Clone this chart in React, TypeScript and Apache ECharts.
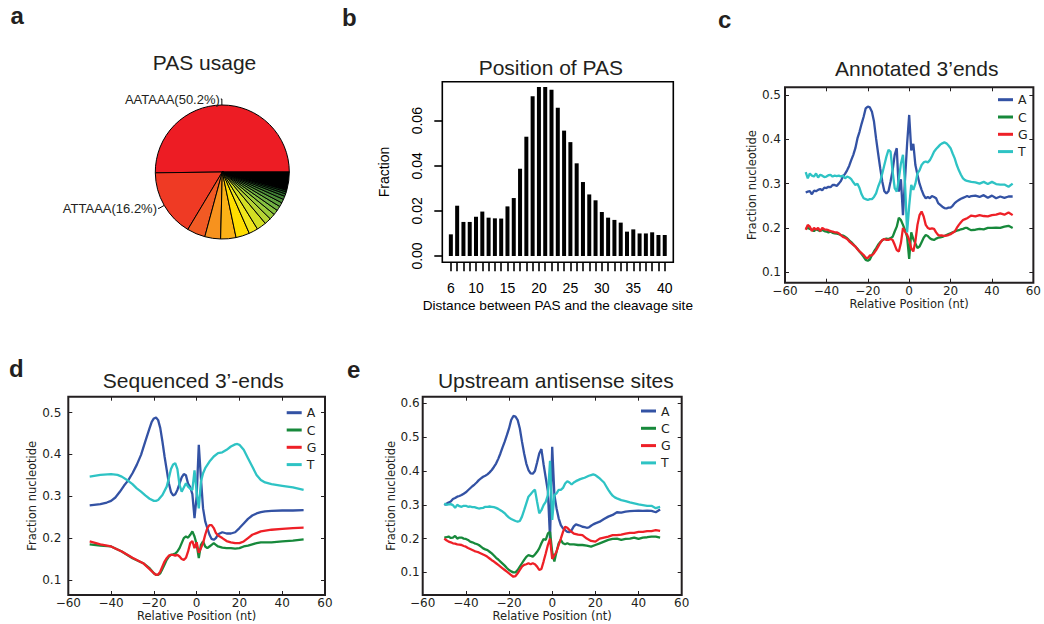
import React, { useEffect, useRef } from 'react';
import * as echarts from 'echarts';

// ---------- Panel a: PAS usage ----------
const pasNames = ['AATAAA', 'ATTAAA', 'PAS3', 'PAS4', 'PAS5', 'PAS6', 'PAS7', 'PAS8', 'PAS9', 'PAS10', 'PAS11', 'PAS12', 'PAS13', 'PAS14', 'PAS15', 'PAS16', 'PAS17', 'PAS18', 'PAS19', 'other'];
const pasShares = [50.2, 16.2, 4.4, 3.8, 3.7, 3.3, 2.2, 2.3, 1.6, 1.4, 1.2, 1.1, 1.0, 0.9, 0.8, 0.6, 0.5, 0.4, 0.2, 4.2];
const pasLabelled = ['AATAAA', 'ATTAAA'];

// ---------- Panel b: Position of PAS ----------
const pasDistance = [6, 7, 8, 9, 10, 11, 12, 13, 14, 15, 16, 17, 18, 19, 20, 21, 22, 23, 24, 25, 26, 27, 28, 29, 30, 31, 32, 33, 34, 35, 36, 37, 38, 39, 40];
const pasFraction = [0.0096, 0.0223, 0.0151, 0.0151, 0.0174, 0.0197, 0.017, 0.0167, 0.0166, 0.022, 0.0257, 0.0387, 0.0529, 0.0709, 0.0749, 0.0749, 0.0737, 0.0658, 0.0556, 0.0505, 0.0411, 0.0328, 0.0273, 0.0247, 0.0195, 0.017, 0.016, 0.0148, 0.0108, 0.0118, 0.01, 0.01, 0.0105, 0.0093, 0.0093];
const pasDistanceLabels = [6, 10, 15, 20, 25, 30, 35, 40];
const pasFractionTicks = [0, 0.02, 0.04, 0.06];

// ---------- Panel c: Annotated 3'ends ----------
const annoA = [[-50,0.28],[-49,0.282],[-48,0.283],[-47,0.276],[-46,0.284],[-45,0.283],[-44,0.286],[-43,0.288],[-42,0.285],[-41,0.291],[-40,0.29],[-39,0.293],[-38,0.292],[-37,0.297],[-36,0.297],[-35,0.295],[-34,0.3],[-33,0.306],[-32,0.316],[-31,0.322],[-30,0.33],[-29,0.34],[-28,0.353],[-27,0.365],[-26,0.38],[-25,0.402],[-24,0.417],[-23,0.435],[-22,0.451],[-21,0.47],[-20,0.474],[-19,0.472],[-18,0.462],[-17,0.44],[-16,0.402],[-15,0.368],[-14,0.335],[-13,0.305],[-12,0.283],[-11,0.278],[-10,0.283],[-9,0.305],[-8,0.33],[-7,0.365],[-6,0.38],[-5,0.282],[-4,0.31],[-3,0.229],[-2,0.31],[-1,0.39],[0,0.455],[1,0.375],[2,0.39],[3,0.342],[4,0.32],[5,0.3],[6,0.286],[7,0.274],[8,0.267],[9,0.27],[10,0.267],[11,0.272],[12,0.27],[13,0.267],[14,0.256],[15,0.252],[16,0.248],[17,0.245],[18,0.244],[19,0.246],[20,0.246],[21,0.25],[22,0.256],[23,0.26],[24,0.263],[25,0.266],[26,0.268],[27,0.27],[28,0.272],[29,0.27],[30,0.272],[32,0.273],[34,0.27],[36,0.274],[38,0.268],[40,0.273],[42,0.267],[44,0.271],[46,0.268],[48,0.271],[50,0.271]];
const annoC = [[-50,0.198],[-49,0.2],[-48,0.198],[-47,0.196],[-46,0.193],[-45,0.197],[-44,0.195],[-43,0.193],[-42,0.196],[-41,0.193],[-40,0.192],[-39,0.19],[-38,0.192],[-37,0.189],[-36,0.188],[-35,0.187],[-34,0.186],[-33,0.184],[-32,0.183],[-31,0.18],[-30,0.177],[-29,0.172],[-28,0.168],[-27,0.163],[-26,0.158],[-25,0.153],[-24,0.147],[-23,0.141],[-22,0.135],[-21,0.128],[-20,0.126],[-19,0.129],[-18,0.139],[-17,0.147],[-16,0.154],[-15,0.162],[-14,0.168],[-13,0.172],[-12,0.175],[-11,0.176],[-10,0.175],[-9,0.177],[-8,0.18],[-7,0.192],[-6,0.203],[-5,0.223],[-4,0.218],[-3,0.207],[-2,0.195],[-1,0.18],[0,0.13],[1,0.19],[2,0.175],[3,0.165],[4,0.155],[5,0.158],[6,0.168],[7,0.178],[8,0.184],[9,0.182],[10,0.177],[11,0.174],[12,0.173],[13,0.176],[14,0.178],[15,0.179],[16,0.18],[17,0.182],[18,0.184],[19,0.186],[20,0.188],[21,0.19],[22,0.192],[23,0.194],[24,0.195],[25,0.197],[26,0.198],[27,0.2],[28,0.2],[29,0.197],[30,0.195],[32,0.196],[34,0.198],[36,0.197],[38,0.2],[40,0.2],[42,0.201],[44,0.2],[46,0.203],[48,0.205],[50,0.2]];
const annoG = [[-50,0.196],[-49,0.207],[-48,0.203],[-47,0.193],[-46,0.2],[-45,0.196],[-44,0.2],[-43,0.193],[-42,0.2],[-41,0.197],[-40,0.196],[-39,0.195],[-38,0.193],[-37,0.192],[-36,0.19],[-35,0.19],[-34,0.188],[-33,0.184],[-32,0.18],[-31,0.178],[-30,0.175],[-29,0.17],[-28,0.166],[-27,0.162],[-26,0.158],[-25,0.152],[-24,0.147],[-23,0.143],[-22,0.139],[-21,0.133],[-20,0.132],[-19,0.138],[-18,0.138],[-17,0.143],[-16,0.15],[-15,0.158],[-14,0.166],[-13,0.173],[-12,0.175],[-11,0.173],[-10,0.173],[-9,0.175],[-8,0.173],[-7,0.162],[-6,0.15],[-5,0.147],[-4,0.166],[-3,0.2],[-2,0.192],[-1,0.185],[0,0.173],[1,0.154],[2,0.147],[3,0.17],[4,0.207],[5,0.229],[6,0.237],[7,0.226],[8,0.207],[9,0.2],[10,0.198],[11,0.199],[12,0.198],[13,0.19],[14,0.184],[15,0.183],[16,0.183],[17,0.182],[18,0.183],[19,0.184],[20,0.186],[21,0.189],[22,0.192],[23,0.2],[24,0.207],[25,0.213],[26,0.218],[27,0.22],[28,0.222],[29,0.225],[30,0.228],[32,0.226],[34,0.229],[36,0.227],[38,0.226],[40,0.229],[42,0.23],[44,0.233],[46,0.23],[48,0.235],[50,0.229]];
const annoT = [[-50,0.326],[-49,0.312],[-48,0.323],[-47,0.318],[-46,0.316],[-45,0.323],[-44,0.314],[-43,0.32],[-42,0.318],[-41,0.315],[-40,0.316],[-39,0.319],[-38,0.32],[-37,0.316],[-36,0.318],[-35,0.317],[-34,0.318],[-33,0.316],[-32,0.318],[-31,0.312],[-30,0.316],[-29,0.314],[-28,0.31],[-27,0.303],[-26,0.297],[-25,0.3],[-24,0.29],[-23,0.276],[-22,0.267],[-21,0.265],[-20,0.263],[-19,0.265],[-18,0.265],[-17,0.27],[-16,0.278],[-15,0.293],[-14,0.305],[-13,0.323],[-12,0.342],[-11,0.361],[-10,0.376],[-9,0.372],[-8,0.327],[-7,0.29],[-6,0.282],[-5,0.31],[-4,0.345],[-3,0.365],[-2,0.3],[-1,0.19],[0,0.25],[1,0.297],[2,0.286],[3,0.3],[4,0.323],[5,0.33],[6,0.342],[7,0.348],[8,0.35],[9,0.348],[10,0.353],[11,0.362],[12,0.372],[13,0.378],[14,0.383],[15,0.388],[16,0.391],[17,0.393],[18,0.391],[19,0.386],[20,0.38],[21,0.368],[22,0.357],[23,0.342],[24,0.33],[25,0.32],[26,0.312],[27,0.308],[28,0.306],[29,0.305],[30,0.304],[32,0.303],[34,0.3],[36,0.304],[38,0.299],[40,0.304],[42,0.299],[44,0.298],[46,0.298],[48,0.293],[50,0.3]];

// ---------- Panel d: Sequenced 3'-ends ----------
const seqA = [[-50,0.278],[-45,0.281],[-42,0.285],[-40,0.289],[-38,0.297],[-36,0.31],[-34,0.325],[-32,0.338],[-30,0.355],[-28,0.375],[-26,0.399],[-24,0.431],[-22,0.463],[-21,0.478],[-20,0.486],[-19,0.488],[-18,0.482],[-17,0.463],[-16,0.431],[-15,0.395],[-14,0.363],[-13,0.331],[-12,0.31],[-11,0.302],[-10,0.305],[-9,0.315],[-8,0.33],[-7,0.345],[-6,0.353],[-5,0.35],[-4,0.33],[-3,0.322],[-2,0.305],[-1,0.248],[0,0.3],[1,0.423],[2,0.343],[3,0.271],[4,0.24],[5,0.224],[6,0.208],[7,0.198],[8,0.196],[9,0.2],[10,0.209],[12,0.214],[14,0.211],[16,0.211],[18,0.214],[20,0.224],[22,0.235],[24,0.246],[26,0.254],[28,0.259],[30,0.262],[32,0.264],[35,0.265],[40,0.266],[45,0.266],[50,0.267]];
const seqC = [[-50,0.185],[-45,0.182],[-40,0.18],[-35,0.168],[-30,0.152],[-25,0.14],[-22,0.128],[-20,0.116],[-19,0.112],[-18,0.112],[-17,0.116],[-16,0.126],[-15,0.137],[-14,0.148],[-13,0.156],[-12,0.16],[-11,0.161],[-10,0.163],[-9,0.168],[-8,0.176],[-7,0.188],[-6,0.2],[-5,0.204],[-4,0.201],[-3,0.208],[-2,0.216],[-1,0.204],[0,0.185],[1,0.152],[2,0.184],[3,0.192],[4,0.18],[5,0.176],[6,0.18],[7,0.184],[8,0.188],[9,0.184],[10,0.18],[12,0.177],[14,0.176],[16,0.176],[18,0.175],[20,0.176],[22,0.18],[24,0.182],[26,0.185],[28,0.188],[30,0.19],[35,0.19],[40,0.192],[45,0.194],[50,0.197]];
const seqG = [[-50,0.192],[-45,0.185],[-40,0.18],[-35,0.168],[-30,0.153],[-25,0.14],[-22,0.126],[-20,0.116],[-19,0.112],[-18,0.113],[-17,0.12],[-16,0.132],[-15,0.144],[-14,0.152],[-13,0.158],[-12,0.16],[-11,0.16],[-10,0.158],[-9,0.16],[-8,0.156],[-7,0.15],[-6,0.148],[-5,0.153],[-4,0.168],[-3,0.188],[-2,0.193],[-1,0.176],[0,0.19],[1,0.165],[2,0.176],[3,0.188],[4,0.208],[5,0.224],[6,0.231],[7,0.231],[8,0.224],[9,0.212],[10,0.206],[12,0.2],[14,0.193],[16,0.19],[18,0.188],[20,0.188],[22,0.192],[24,0.2],[26,0.208],[28,0.212],[30,0.216],[35,0.22],[40,0.222],[45,0.224],[50,0.225]];
const seqT = [[-50,0.347],[-45,0.351],[-40,0.353],[-37,0.351],[-35,0.347],[-32,0.337],[-30,0.329],[-28,0.319],[-26,0.311],[-24,0.302],[-22,0.294],[-20,0.289],[-19,0.289],[-18,0.291],[-16,0.303],[-14,0.323],[-13,0.343],[-12,0.365],[-11,0.376],[-10,0.379],[-9,0.365],[-8,0.327],[-7,0.311],[-6,0.321],[-5,0.331],[-4,0.323],[-3,0.318],[-2,0.315],[-1,0.362],[0,0.31],[1,0.271],[2,0.335],[3,0.355],[4,0.367],[6,0.383],[8,0.395],[10,0.403],[12,0.405],[14,0.411],[16,0.419],[18,0.424],[19,0.425],[20,0.423],[22,0.411],[24,0.391],[26,0.371],[28,0.351],[30,0.339],[32,0.333],[35,0.329],[40,0.325],[45,0.321],[50,0.315]];

// ---------- Panel e: Upstream antisense sites ----------
const upA = [[-50,0.299],[-49,0.303],[-48,0.307],[-47,0.31],[-46,0.317],[-45,0.32],[-44,0.324],[-43,0.326],[-42,0.329],[-41,0.333],[-40,0.337],[-39,0.343],[-38,0.349],[-37,0.355],[-36,0.36],[-35,0.366],[-34,0.373],[-33,0.378],[-32,0.383],[-31,0.386],[-30,0.39],[-29,0.396],[-28,0.403],[-27,0.412],[-26,0.422],[-25,0.436],[-24,0.452],[-23,0.47],[-22,0.487],[-21,0.506],[-20,0.526],[-19,0.551],[-18,0.563],[-17,0.561],[-16,0.551],[-15,0.526],[-14,0.487],[-13,0.452],[-12,0.422],[-11,0.403],[-10,0.393],[-9,0.392],[-8,0.4],[-7,0.425],[-6,0.452],[-5,0.465],[-4,0.42],[-3,0.38],[-2,0.34],[-1,0.2],[0,0.472],[1,0.33],[2,0.29],[3,0.26],[4,0.24],[5,0.23],[6,0.225],[7,0.22],[8,0.219],[9,0.225],[10,0.236],[11,0.242],[12,0.24],[13,0.238],[14,0.235],[15,0.234],[16,0.232],[17,0.233],[18,0.238],[19,0.242],[20,0.245],[22,0.25],[24,0.258],[26,0.265],[28,0.27],[30,0.278],[32,0.277],[34,0.28],[36,0.281],[38,0.282],[40,0.283],[42,0.282],[44,0.283],[46,0.282],[48,0.278],[50,0.286]];
const upC = [[-50,0.203],[-49,0.204],[-48,0.206],[-47,0.202],[-46,0.203],[-45,0.208],[-44,0.2],[-43,0.203],[-42,0.203],[-41,0.2],[-40,0.199],[-39,0.196],[-38,0.191],[-37,0.189],[-36,0.186],[-35,0.184],[-34,0.181],[-33,0.176],[-32,0.171],[-31,0.168],[-30,0.166],[-29,0.161],[-28,0.156],[-27,0.15],[-26,0.143],[-25,0.138],[-24,0.132],[-23,0.126],[-22,0.12],[-21,0.113],[-20,0.107],[-19,0.103],[-18,0.1],[-17,0.1],[-16,0.107],[-15,0.117],[-14,0.127],[-13,0.137],[-12,0.146],[-11,0.151],[-10,0.149],[-9,0.146],[-8,0.153],[-7,0.161],[-6,0.171],[-5,0.186],[-4,0.199],[-3,0.196],[-2,0.215],[-1,0.22],[0,0.16],[1,0.132],[2,0.161],[3,0.186],[4,0.196],[5,0.186],[6,0.183],[7,0.186],[8,0.183],[10,0.183],[12,0.181],[14,0.181],[16,0.179],[18,0.176],[20,0.181],[22,0.186],[24,0.191],[26,0.196],[28,0.199],[30,0.2],[32,0.196],[34,0.199],[36,0.2],[38,0.203],[40,0.199],[42,0.203],[44,0.204],[46,0.206],[48,0.206],[50,0.203]];
const upG = [[-50,0.2],[-49,0.195],[-48,0.191],[-47,0.189],[-46,0.186],[-45,0.185],[-44,0.183],[-43,0.182],[-42,0.181],[-41,0.178],[-40,0.176],[-39,0.172],[-38,0.169],[-37,0.166],[-36,0.163],[-35,0.161],[-34,0.159],[-33,0.156],[-32,0.153],[-31,0.15],[-30,0.146],[-29,0.141],[-28,0.136],[-27,0.132],[-26,0.127],[-25,0.122],[-24,0.117],[-23,0.112],[-22,0.107],[-21,0.102],[-20,0.097],[-19,0.092],[-18,0.087],[-17,0.089],[-16,0.097],[-15,0.107],[-14,0.117],[-13,0.122],[-12,0.124],[-11,0.127],[-10,0.124],[-9,0.127],[-8,0.124],[-7,0.117],[-6,0.107],[-5,0.11],[-4,0.132],[-3,0.156],[-2,0.181],[-1,0.2],[0,0.14],[1,0.15],[2,0.161],[3,0.181],[4,0.2],[5,0.22],[6,0.235],[7,0.232],[8,0.225],[9,0.22],[10,0.215],[12,0.212],[14,0.21],[16,0.2],[18,0.193],[20,0.191],[22,0.2],[24,0.203],[26,0.206],[28,0.21],[30,0.21],[32,0.212],[34,0.215],[36,0.217],[38,0.217],[40,0.22],[42,0.22],[44,0.222],[46,0.222],[48,0.225],[50,0.223]];
const upT = [[-50,0.304],[-49,0.3],[-48,0.301],[-47,0.302],[-46,0.299],[-45,0.291],[-44,0.3],[-43,0.296],[-42,0.294],[-41,0.297],[-40,0.297],[-39,0.294],[-38,0.295],[-37,0.293],[-36,0.293],[-35,0.291],[-34,0.289],[-33,0.29],[-32,0.291],[-31,0.294],[-30,0.294],[-29,0.295],[-28,0.294],[-27,0.293],[-26,0.291],[-25,0.288],[-24,0.284],[-23,0.28],[-22,0.275],[-21,0.268],[-20,0.262],[-19,0.258],[-18,0.255],[-17,0.252],[-16,0.25],[-15,0.252],[-14,0.265],[-13,0.284],[-12,0.304],[-11,0.324],[-10,0.331],[-9,0.339],[-8,0.345],[-7,0.309],[-6,0.275],[-5,0.284],[-4,0.299],[-3,0.309],[-2,0.329],[-1,0.43],[0,0.255],[1,0.329],[2,0.334],[3,0.344],[4,0.344],[5,0.35],[6,0.363],[7,0.37],[8,0.366],[9,0.36],[10,0.366],[11,0.37],[12,0.373],[13,0.376],[14,0.378],[15,0.38],[16,0.383],[17,0.386],[18,0.388],[19,0.39],[20,0.388],[21,0.383],[22,0.378],[23,0.372],[24,0.366],[25,0.355],[26,0.344],[27,0.335],[28,0.327],[29,0.322],[30,0.319],[32,0.314],[34,0.311],[36,0.307],[38,0.304],[40,0.301],[42,0.299],[44,0.297],[46,0.297],[48,0.29],[50,0.294]];

const nucleotides = ['A', 'C', 'G', 'T'];
const ticksCD = [0.1, 0.2, 0.3, 0.4, 0.5];
const ticksE = [0.1, 0.2, 0.3, 0.4, 0.5, 0.6];

// ---------- styles ----------
const INK = '#231f20';
const MPL = 'DejaVu Sans';
const HEL = 'Liberation Sans';
const nucColors = ['#3352a4', '#17893b', '#ee2027', '#2ec3c4'];
const pieColors = ['#ed1c24', '#ef3a24', '#f15a24', '#f7921e', '#fbb117', '#ffdd00', '#f0e51c', '#d3df24', '#b6d334', '#9ccb3b', '#86c140', '#72b043', '#5fa03f', '#4e8f3a', '#3f7f34', '#306f2e', '#235f27', '#184f20', '#0f3f18', '#000000'];

const minusFmt = (v: number) => (v < 0 ? '\u2212' + Math.abs(v) : String(v));
const noLine = { show: false, onZero: false };

function mplAxes(grid: number, yMin: number, yMax: number, ticks: number[], yNameGap: number, yLabelMargin: number, xNameGap: number) {
  const tick = { show: true, inside: true, length: 4, lineStyle: { color: INK, width: 1 } };
  const xs = [
    {
      type: 'value', gridIndex: grid, min: -60, max: 60, interval: 20, position: 'bottom',
      axisLine: noLine, splitLine: { show: false }, axisTick: tick,
      axisLabel: { formatter: minusFmt, fontFamily: MPL, fontSize: 12, color: INK, margin: 2 },
      name: 'Relative Position (nt)', nameLocation: 'middle', nameGap: xNameGap,
      nameTextStyle: { fontFamily: MPL, fontSize: 11.5, color: INK },
    },
    {
      type: 'value', gridIndex: grid, min: -60, max: 60, interval: 20, position: 'top',
      axisLine: noLine, splitLine: { show: false }, axisTick: tick, axisLabel: { show: false },
    },
  ];
  const ys = [
    {
      type: 'value', gridIndex: grid, min: yMin, max: yMax, position: 'left',
      axisLine: noLine, splitLine: { show: false },
      axisTick: { ...tick, customValues: ticks },
      axisLabel: { customValues: ticks, formatter: (v: number) => v.toFixed(1), fontFamily: MPL, fontSize: 12, color: INK, margin: yLabelMargin },
      name: 'Fraction nucleotide', nameLocation: 'middle', nameGap: yNameGap,
      nameTextStyle: { fontFamily: MPL, fontSize: 11.5, color: INK },
    },
    {
      type: 'value', gridIndex: grid, min: yMin, max: yMax, position: 'right',
      axisLine: noLine, splitLine: { show: false },
      axisTick: { ...tick, customValues: ticks }, axisLabel: { show: false },
    },
  ];
  return { xs, ys };
}

function nucSeries(axisIdx: number, sets: number[][][]) {
  return sets.map((d, i) => ({
    type: 'line', name: nucleotides[i], xAxisIndex: axisIdx, yAxisIndex: axisIdx,
    data: d, showSymbol: false, symbol: 'none', silent: true,
    lineStyle: { width: 2.3, color: nucColors[i] }, itemStyle: { color: nucColors[i] },
  }));
}

function mplLegend(left: number, top: number) {
  return {
    orient: 'vertical', left, top, padding: 0, itemWidth: 15, itemHeight: 3, itemGap: 3.3,
    icon: 'rect', selectedMode: false, data: nucleotides,
    textStyle: { fontFamily: MPL, fontSize: 12.5, color: INK, lineHeight: 14 },
  };
}

function txt(text: string, x: number, y: number, size: number, bold: boolean, align: string) {
  return {
    type: 'text', x, y, silent: true,
    style: {
      text, fill: INK, fontSize: size, fontFamily: HEL, fontWeight: bold ? 'bold' : 'normal',
      align, verticalAlign: 'middle', textAlign: align, textVerticalAlign: 'middle',
    },
  };
}

function buildOption() {
  const c = mplAxes(1, 0.0765, 0.5174, ticksCD, 18.5, 4, 12);
  const d = mplAxes(2, 0.064, 0.538, ticksCD, 20, 7, 13.5);
  const e = mplAxes(3, 0.033, 0.62, ticksE, 19, 3, 13.5);
  return {
    animation: false,
    grid: [
      { left: 442.3, top: 81.7, width: 231, height: 180.6, show: true, borderColor: '#000', borderWidth: 1.6, backgroundColor: 'transparent' },
      { left: 785, top: 87.3, width: 250, height: 195.4, show: true, borderColor: INK, borderWidth: 2, backgroundColor: 'transparent' },
      { left: 68.3, top: 396.7, width: 256.7, height: 198.3, show: true, borderColor: INK, borderWidth: 2, backgroundColor: 'transparent' },
      { left: 422.7, top: 396.7, width: 259, height: 198.3, show: true, borderColor: INK, borderWidth: 2, backgroundColor: 'transparent' },
    ],
    xAxis: [
      {
        type: 'value', gridIndex: 0, min: 4.64, max: 41.36, position: 'bottom',
        axisLine: noLine, splitLine: { show: false },
        axisTick: { show: true, inside: false, length: 9, customValues: pasDistance, lineStyle: { color: '#000', width: 1.6 } },
        axisLabel: { customValues: pasDistanceLabels, fontFamily: HEL, fontSize: 14, color: '#000', margin: 18.7 },
        name: 'Distance between PAS and the cleavage site', nameLocation: 'middle', nameGap: 36,
        nameTextStyle: { fontFamily: HEL, fontSize: 13.6, color: '#000' },
      },
      c.xs[0], c.xs[1], d.xs[0], d.xs[1], e.xs[0], e.xs[1],
    ],
    yAxis: [
      {
        type: 'value', gridIndex: 0, min: -0.0028, max: 0.0773, position: 'left',
        axisLine: noLine, splitLine: { show: false },
        axisTick: { show: true, inside: false, length: 8, customValues: pasFractionTicks, lineStyle: { color: '#000', width: 1.6 } },
        axisLabel: { customValues: pasFractionTicks, rotate: 90, formatter: (v: number) => v.toFixed(2), fontFamily: HEL, fontSize: 14, color: '#000', margin: 18.6 },
        name: 'Fraction', nameLocation: 'middle', nameGap: 51.5,
        nameTextStyle: { fontFamily: HEL, fontSize: 14, color: '#000' },
      },
      c.ys[0], c.ys[1], d.ys[0], d.ys[1], e.ys[0], e.ys[1],
    ],
    legend: [mplLegend(998, 92.7), mplLegend(286.7, 405.7), mplLegend(641, 404)],
    series: [
      {
        type: 'pie', center: [222.3, 172], radius: 67, startAngle: 0, clockwise: false,
        avoidLabelOverlap: false, silent: true, emphasis: { disabled: true },
        itemStyle: { borderColor: '#000', borderWidth: 1 },
        label: { show: false },
        labelLine: { show: false },
        data: pasNames.map((n, i) => {
          const lab = pasLabelled.includes(n);
          return {
            name: n, value: pasShares[i], itemStyle: { color: pieColors[i] },
            label: {
              show: lab, position: 'outside', formatter: '{b}({c}%)', fontFamily: HEL, fontSize: 13,
              color: INK, distanceToLabelLine: 1,
            },
            labelLine: { show: lab, length: 6, length2: 1, lineStyle: { color: '#000', width: 1 } },
          };
        }),
      },
      {
        type: 'bar', xAxisIndex: 0, yAxisIndex: 0, barWidth: 4, silent: true,
        data: pasDistance.map((x, i) => [x, pasFraction[i]]), itemStyle: { color: '#000' },
      },
      ...nucSeries(1, [annoA, annoC, annoG, annoT]),
      ...nucSeries(3, [seqA, seqC, seqG, seqT]),
      ...nucSeries(5, [upA, upC, upG, upT]),
    ],
    graphic: [
      txt('a', 10.5, 15.7, 24, true, 'left'),
      txt('b', 342, 17.7, 24, true, 'left'),
      txt('c', 718, 19.7, 24, true, 'left'),
      txt('d', 9, 368.4, 24, true, 'left'),
      txt('e', 347, 369.7, 24, true, 'left'),
      txt('PAS usage', 204.5, 62.7, 21, false, 'center'),
      txt('Position of PAS', 550.8, 67.7, 21, false, 'center'),
      txt('Annotated 3\u2019ends', 916.7, 68.7, 21, false, 'center'),
      txt('Sequenced 3\u2019-ends', 193.3, 380.4, 21, false, 'center'),
      txt('Upstream antisense sites', 555.8, 380.7, 21, false, 'center'),
    ],
  };
}

export default function App() {
  const ref = useRef<HTMLDivElement>(null);
  useEffect(() => {
    if (!ref.current) return;
    const chart = echarts.init(ref.current, null, { renderer: 'svg', width: 1044, height: 624 });
    chart.setOption(buildOption() as any);
    return () => chart.dispose();
  }, []);
  return <div ref={ref} style={{ position: 'absolute', left: 0, top: 0, width: 1044, height: 624 }} />;
}
